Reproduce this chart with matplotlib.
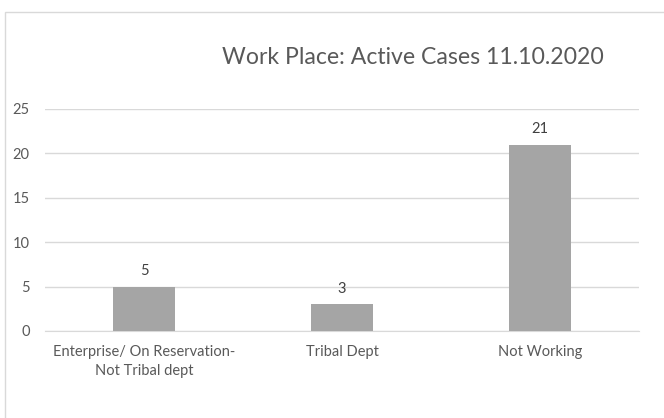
import matplotlib
matplotlib.use("Agg")
import matplotlib.pyplot as plt
from matplotlib.patches import Rectangle

categories = ["Enterprise/ On Reservation-\nNot Tribal dept", "Tribal Dept", "Not Working"]
values = [5, 3, 21]
yticks = [0, 5, 10, 15, 20, 25]
title = "Work Place: Active Cases 11.10.2020"

plt.rcParams['font.family'] = ['Lato', 'DejaVu Sans']
txt = "#595959"

fig = plt.figure(figsize=(6.64, 4.18), dpi=100)
fig.patches.append(Rectangle((5/664, -0.1), 1.2, 1 - 12/418 + 0.1, transform=fig.transFigure,
                             fill=False, edgecolor="#d9d9d9", linewidth=1))
ax = fig.add_axes([45/664, 1 - 331/418, 594/664, 222/418])
x = list(range(len(categories)))
bars = ax.bar(x, values, width=0.31, color="#a5a5a5", zorder=3)
for xi, v in zip(x, values):
    ax.annotate(str(v), (xi, v), xytext=(0, 6), textcoords="offset points",
                ha="center", va="bottom", fontsize=10.5, color="#404040")
ax.set_xlim(-0.5, len(categories) - 0.5)
ax.set_ylim(0, 25)
ax.set_yticks(yticks)
ax.set_xticks(x)
ax.set_xticklabels(categories, fontsize=10.5, color=txt, linespacing=1.5)
ax.tick_params(axis='y', labelsize=10.5, labelcolor=txt, length=0, pad=11)
ax.tick_params(axis='x', length=0, pad=10)
ax.yaxis.grid(True, color="#d9d9d9", linewidth=1, zorder=0)
for s in ax.spines.values():
    s.set_visible(False)
ax.spines['bottom'].set_visible(True)
ax.spines['bottom'].set_color("#d9d9d9")
fig.text(413/664, 1 - 57/418, title, ha="center", va="center", fontsize=16.6, color=txt)
fig.savefig("out.png", dpi=100)
